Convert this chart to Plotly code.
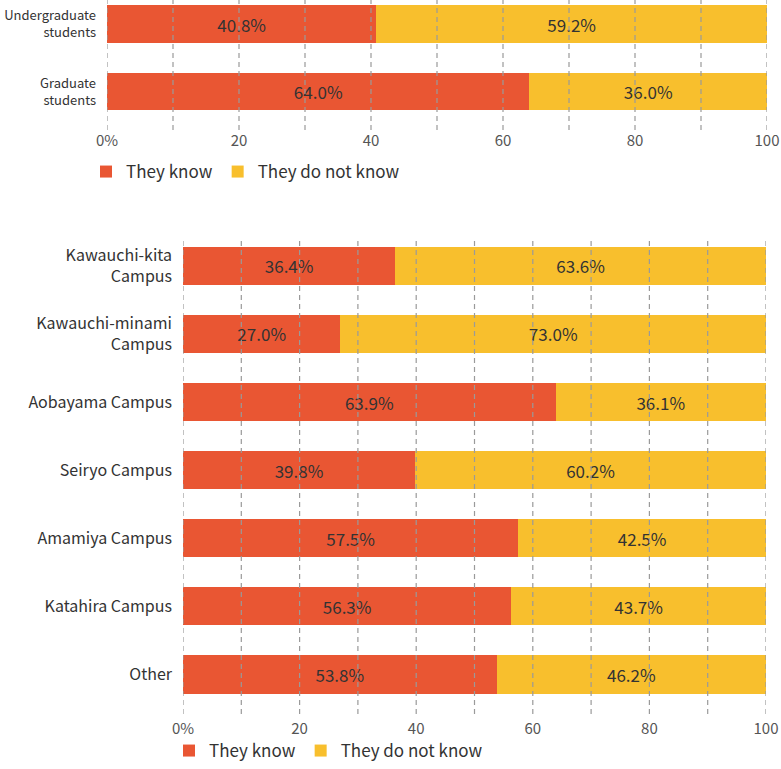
import plotly.graph_objects as go

# data
student_groups = ["Undergraduate<br>students", "Graduate<br>students"]
student_know = [40.8, 64.0]
student_not_know = [59.2, 36.0]

campuses = ["Kawauchi-kita<br>Campus", "Kawauchi-minami<br>Campus", "Aobayama Campus",
            "Seiryo Campus", "Amamiya Campus", "Katahira Campus", "Other"]
campus_know = [36.4, 27.0, 63.9, 39.8, 57.5, 56.3, 53.8]
campus_not_know = [63.6, 73.0, 36.1, 60.2, 42.5, 43.7, 46.2]

tick_vals = list(range(0, 101, 10))
tick_text = ["0%", "", "20", "", "40", "", "60", "", "80", "", "100"]

RED = "#E95633"
YELLOW = "#F8BF2D"
TEXT = "#333333"
FONT = "Noto Sans CJK JP"

W, H = 781, 769

fig = go.Figure()

bar_style = dict(orientation="h", width=0.56, textposition="inside",
                 insidetextanchor="middle", texttemplate="%{x:.1f}%",
                 textfont=dict(size=17, color=TEXT, family=FONT),
                 marker_line_width=0)

# top chart
fig.add_trace(go.Bar(y=student_groups, x=student_know, name="They know",
                     marker_color=RED, xaxis="x", yaxis="y", legend="legend", **bar_style))
fig.add_trace(go.Bar(y=student_groups, x=student_not_know, name="They do not know",
                     marker_color=YELLOW, xaxis="x", yaxis="y", legend="legend", **bar_style))

# bottom chart
fig.add_trace(go.Bar(y=campuses, x=campus_know, name="They know",
                     marker_color=RED, xaxis="x2", yaxis="y2", legend="legend2", **bar_style))
fig.add_trace(go.Bar(y=campuses, x=campus_not_know, name="They do not know",
                     marker_color=YELLOW, xaxis="x2", yaxis="y2", legend="legend2", **bar_style))

xaxis_style = dict(range=[0, 100], tickvals=tick_vals, ticktext=tick_text,
                   showgrid=False, zeroline=False, showline=False, ticks="",
                   automargin=False,
                   tickfont=dict(size=15, color="#555555", family=FONT))
yaxis_style = dict(type="category", showgrid=False, zeroline=False, showline=False,
                   ticks="", ticklabelstandoff=10, automargin=False)

legend_style = dict(orientation="h", font=dict(size=17, color=TEXT, family=FONT),
                    xanchor="left", traceorder="normal",
                    bgcolor="rgba(0,0,0,0)")

# dashed grid lines drawn over the bars
shapes = []
for xref, yref in [("x", "y domain"), ("x2", "y2 domain")]:
    for v in tick_vals:
        shapes.append(dict(type="line", xref=xref, yref=yref, x0=v, x1=v, y0=0, y1=1,
                           line=dict(color="#9a9a9a", width=1.2, dash="5px,4px"),
                           layer="above"))

fig.update_layout(
    width=W, height=H,
    margin=dict(l=0, r=0, t=0, b=0),
    paper_bgcolor="white", plot_bgcolor="white",
    barmode="stack",
    font=dict(family=FONT, color=TEXT),
    shapes=shapes,
    xaxis=dict(domain=[107 / W, 767 / W], anchor="y", **xaxis_style),
    yaxis=dict(domain=[1 - 130 / H, 1], anchor="x",
               categoryarray=student_groups, range=[1.57, -0.356],
               tickfont=dict(size=13, color=TEXT, family=FONT), **yaxis_style),
    xaxis2=dict(domain=[183 / W, 766 / W], anchor="y2", ticklabelstandoff=4, **xaxis_style),
    yaxis2=dict(domain=[1 - 714 / H, 1 - 240 / H], anchor="x2",
                categoryarray=campuses, range=[6.58, -0.38],
                tickfont=dict(size=16, color=TEXT, family=FONT), **yaxis_style),
    legend=dict(x=86 / W, y=1 - 172 / H, yanchor="middle", **legend_style),
    legend2=dict(x=169 / W, y=0, yanchor="bottom", **legend_style),
)

fig.write_html("out.html", config={"displayModeBar": False},
               post_script="document.body.style.margin = '0';")
